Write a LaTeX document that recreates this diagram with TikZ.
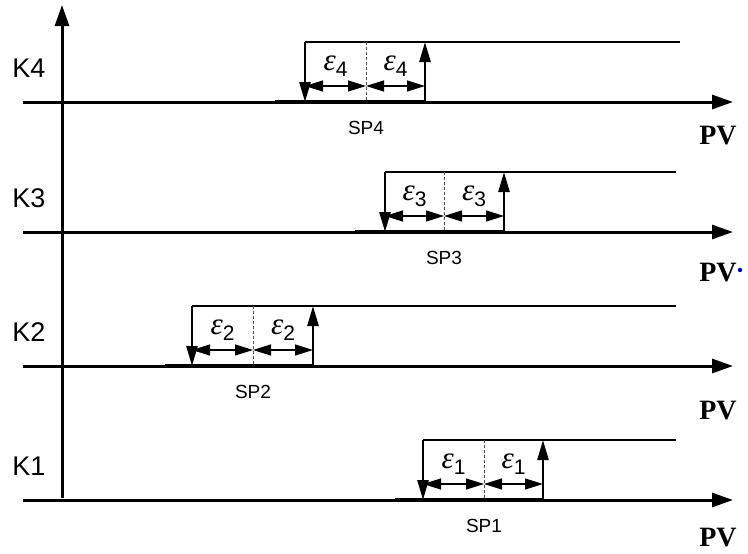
\documentclass[tikz,border=0pt]{standalone}
\usepackage{fontspec}
\setmainfont{Liberation Sans}
\newfontfamily\pvfont{Liberation Serif}
\usetikzlibrary{arrows.meta,calc}
\newcommand{\epsk}[1]{{\pvfont\itshape\fontsize{31}{31}\selectfont ε}\raisebox{-6pt}{\fontsize{21}{21}\selectfont #1}}
\begin{document}
\begin{tikzpicture}[x=1pt,y=-1pt,
  axis/.style={line width=3pt,-{Triangle[length=21pt,width=14pt]}},
  thickseg/.style={line width=3.5pt},
  vline/.style={line width=2.6pt,-{Triangle[length=20pt,width=11pt]}},
  topline/.style={line width=2.6pt},
  epsarr/.style={line width=1.2pt,{Triangle[length=18pt,width=11pt]}-{Triangle[length=18pt,width=11pt]}},
  midline/.style={line width=0.9pt,densely dashed,black!70},
  klabel/.style={font=\fontsize{27}{27}\selectfont},
  splabel/.style={font=\fontsize{19}{19}\selectfont},
  pvlabel/.style={font=\pvfont\bfseries\fontsize{28}{28}\selectfont,inner sep=0pt,anchor=base,text depth=0pt},
  epslabel/.style={inner sep=0pt}]
\useasboundingbox (0,0) rectangle (748,554);
% vertical axis
\coordinate (vb) at (62,498);
\coordinate (vt) at (62,5);
\draw[axis] (vb) -- (vt);
\foreach \k/\y/\xd/\xm/\xu/\xe/\xs/\pvy in
  {4/102/305/366/425/680/275/144,
   3/232/385/444/504/676/355/281,
   2/366/192/253/313/676/165/419,
   1/500/423/484/543/676/395/546}{
  \coordinate (as\k) at (23,\y);
  \coordinate (ae\k) at (733,\y);
  \coordinate (ts\k) at (\xs,\y);
  \coordinate (bd\k) at (\xd,\y);
  \coordinate (bm\k) at (\xm,\y);
  \coordinate (bu\k) at (\xu,\y);
  \coordinate (td\k) at (\xd,\y-60);
  \coordinate (tm\k) at (\xm,\y-60);
  \coordinate (tu\k) at (\xu,\y-60);
  \coordinate (te\k) at (\xe,\y-60);
  \coordinate (ed\k) at (\xd,\y-16);
  \coordinate (em\k) at (\xm,\y-16);
  \coordinate (eu\k) at (\xu,\y-16);
  \draw[axis] (as\k) -- (ae\k);
  \draw[thickseg] (ts\k) -- (bu\k);
  \draw[topline] (td\k) -- (te\k);
  \draw[vline] (td\k) -- (bd\k);
  \draw[vline] (bu\k) -- (tu\k);
  \draw[midline] (tm\k) -- (bm\k);
  \draw[epsarr] (ed\k) -- (em\k);
  \draw[epsarr] (em\k) -- (eu\k);
  \node[klabel] (K\k) at (29,\y-34) {K\k};
  \node[splabel] (SP\k) at (\xm,\y+26) {SP\k};
  \node[pvlabel] (PV\k) at (718,\pvy) {PV};
  \node[epslabel] (e1\k) at ($(td\k)!0.5!(tm\k)+(0,24)$) {\epsk{\k}};
  \node[epslabel] (e2\k) at ($(tm\k)!0.5!(tu\k)+(0,24)$) {\epsk{\k}};
}
\fill[blue!80!black] (740,270) circle (2.2pt);
\end{tikzpicture}
\end{document}
